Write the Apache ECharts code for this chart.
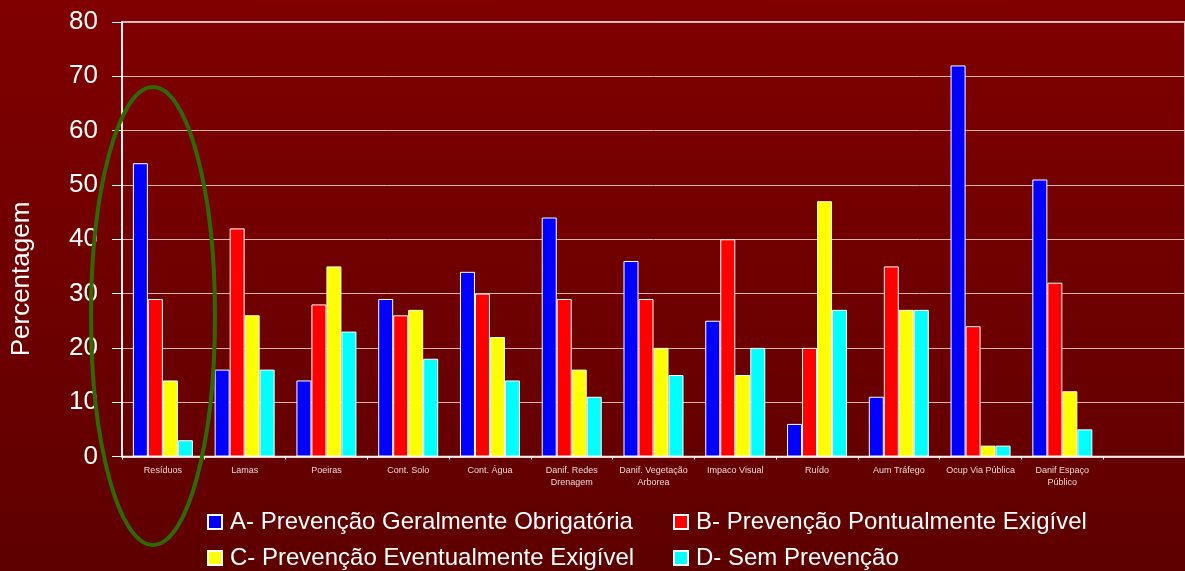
<!DOCTYPE html>
<html>
<head>
<meta charset="utf-8">
<style>
  html, body { margin: 0; padding: 0; }
  #chart { width: 1185px; height: 571px; background: linear-gradient(#800000, #5e0000); }
</style>
</head>
<body>
<div id="chart"></div>
<script src="https://cdn.jsdelivr.net/npm/echarts@6/dist/echarts.min.js"></script>
<script>
// categorias (a ultima fica vazia, como no original)
var categorias = ['Resíduos', 'Lamas', 'Poeiras', 'Cont. Solo', 'Cont. Água', 'Danif. Redes\nDrenagem',
  'Danif. Vegetação\nArborea', 'Impaco Visual', 'Ruído', 'Aum Tráfego', 'Ocup Via Pública', 'Danif Espaço\nPúblico', ''];
var nomes = ['A- Prevenção Geralmente Obrigatória', 'B- Prevenção Pontualmente Exigível',
  'C- Prevenção Eventualmente Exigível', 'D- Sem Prevenção'];
var cores = ['#0000ff', '#ff0000', '#ffff00', '#00ffff'];
var serieA = [54, 16, 14, 29, 34, 44, 36, 25, 6, 11, 72, 51];
var serieB = [29, 42, 28, 26, 30, 29, 29, 40, 20, 35, 24, 32];
var serieC = [14, 26, 35, 27, 22, 16, 20, 15, 47, 27, 2, 12];
var serieD = [3, 16, 23, 18, 14, 11, 15, 20, 27, 27, 2, 5];
var eixoY = [0, 80, 10]; // min, max, intervalo

var chart = echarts.init(document.getElementById('chart'));
var fonte = "'Liberation Sans', Arial, sans-serif";

var series = [serieA, serieB, serieC, serieD].map(function (d, i) {
  return {
    name: nomes[i],
    type: 'bar',
    data: d,
    barWidth: 15,
    barGap: '0%',
    itemStyle: { color: cores[i], borderColor: '#fff', borderWidth: 1 },
    emphasis: { disabled: true }
  };
});

function legenda(itens, left) {
  return {
    data: itens,
    orient: 'vertical',
    left: left,
    top: 510,
    padding: 0,
    itemGap: 12,
    icon: 'rect',
    itemWidth: 14,
    itemHeight: 14,
    textStyle: { color: '#fff', fontSize: 24, fontFamily: fonte, padding: [0, 0, 0, 3] }
  };
}

chart.setOption({
  animation: false,
  backgroundColor: 'transparent',
  textStyle: { fontFamily: fonte },
  grid: {
    left: 122, top: 22, width: 1067, height: 434.5,
    show: true, borderColor: '#fff', borderWidth: 1.5
  },
  legend: [legenda([nomes[0], nomes[2]], 207), legenda([nomes[1], nomes[3]], 673)],
  xAxis: {
    type: 'category',
    data: categorias,
    axisLine: { lineStyle: { color: '#fff', width: 1.5 } },
    axisTick: { show: true, length: 3, lineStyle: { color: '#fff' } },
    axisLabel: { interval: 0, color: '#e8d6d6', fontSize: 9, lineHeight: 12, margin: 8, fontFamily: fonte }
  },
  yAxis: {
    type: 'value',
    min: eixoY[0], max: eixoY[1], interval: eixoY[2],
    axisLine: { show: true, lineStyle: { color: '#fff', width: 1.5 } },
    axisTick: { show: true, length: 10, lineStyle: { color: '#fff' } },
    axisLabel: { color: '#fff', fontSize: 26, margin: 24, fontFamily: fonte },
    splitLine: { lineStyle: { color: '#d4b4b4', width: 1 } }
  },
  graphic: [
    {
      type: 'text', x: 22, y: 279, rotation: Math.PI / 2,
      style: { text: 'Percentagem', fill: '#fff', fontSize: 26, fontFamily: fonte, align: 'center', verticalAlign: 'middle' }
    },
    {
      type: 'ellipse', shape: { cx: 153, cy: 316, rx: 62, ry: 229 },
      style: { fill: null, stroke: '#2e6a00', lineWidth: 4 }, z: 100
    }
  ],
  series: series
});
</script>
</body>
</html>
